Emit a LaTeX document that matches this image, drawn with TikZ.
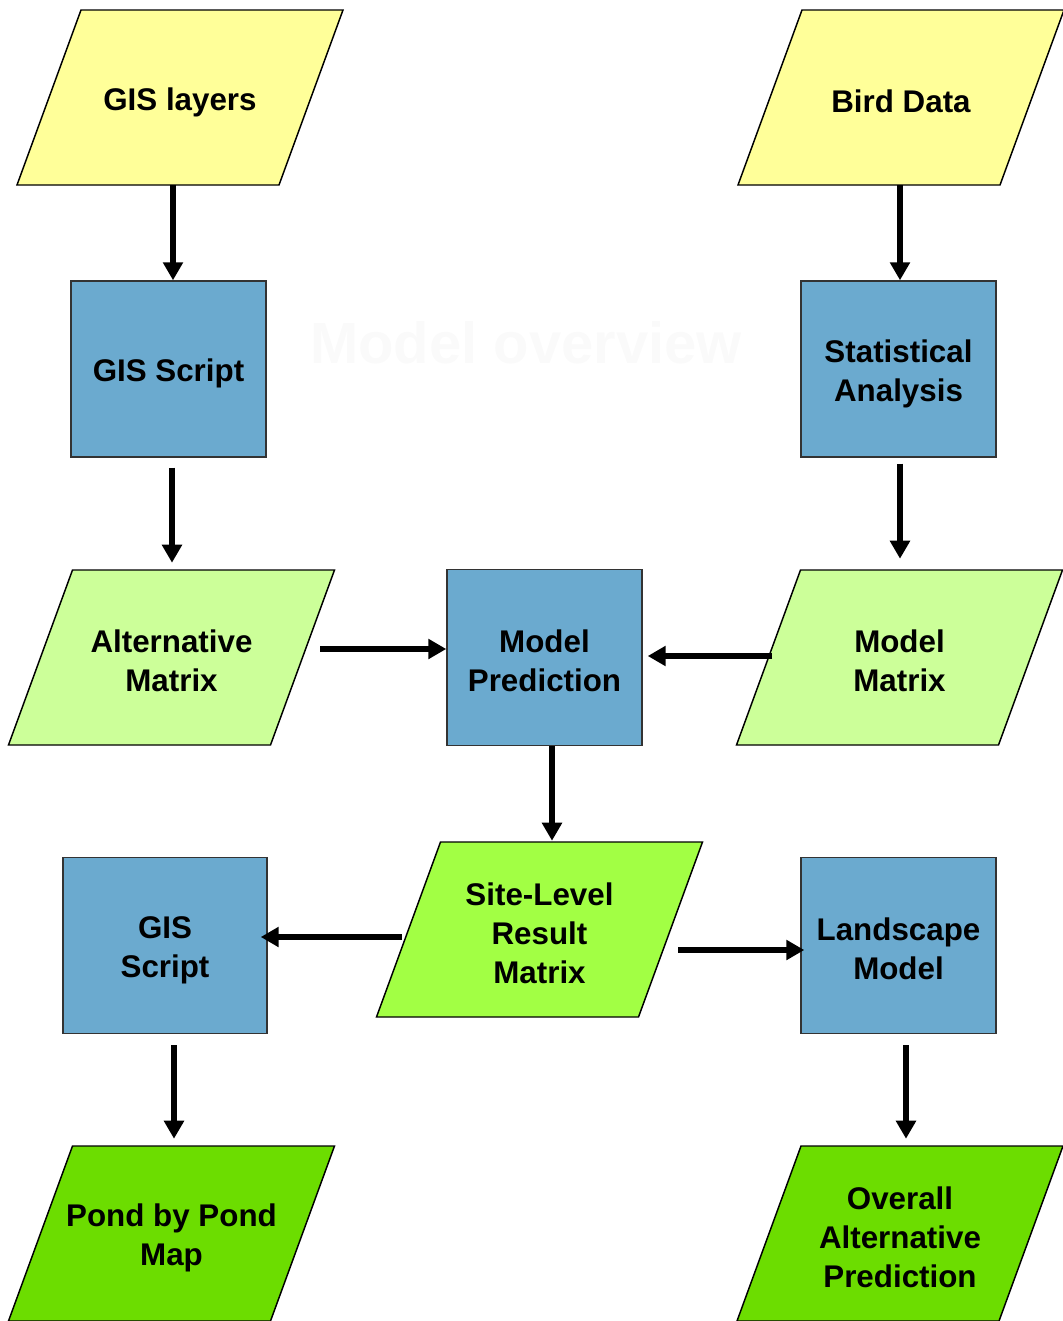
\documentclass[tikz,border=0pt]{standalone}
\usepackage{fontspec}
\setmainfont{Liberation Sans}
\usetikzlibrary{arrows.meta,calc}
\definecolor{inyellow}{HTML}{FFFF99}
\definecolor{ltgreen}{HTML}{CCFF99}
\definecolor{midgreen}{HTML}{A2FF44}
\definecolor{dkgreen}{HTML}{6CDD00}
\definecolor{boxblue}{HTML}{6BAACF}
\definecolor{ghost}{HTML}{FAFAFA}
\newcommand{\ls}{\rule[-2pt]{0pt}{26.3pt}}
\tikzset{
  txt/.style={font=\fontsize{23.5pt}{29.25pt}\selectfont\bfseries, align=center, text=black, inner sep=0pt},
  parabody/.style={txt, rectangle, minimum width=196.5pt, minimum height=131.25pt},
  paraedge/.style={draw=black, line width=1.1pt},
  procbox/.style={txt, rectangle, draw=black!80, line width=1.1pt, fill=boxblue,
    minimum width=146.25pt, minimum height=132pt},
  arr/.style={line width=4.5pt, -{Triangle[length=13.5pt,width=14.5pt]}}
}
% #1 name, #2 x, #3 y, #4 colour, #5 text
\newcommand{\paranode}[5]{%
  \path[paraedge, fill=#4] (#2-163,#3+87.5) -- (#2+99,#3+87.5) -- (#2+163,#3-87.5) -- (#2-99,#3-87.5) -- cycle;
  \node[parabody] (#1) at (#2,#3) {#5};
}
\begin{document}
\begin{tikzpicture}[x=0.75pt,y=-0.75pt]
\useasboundingbox (0,0) rectangle (1063,1321);
\begin{scope}
\clip (0,0) rectangle (1063,1321);
\node[font=\fontsize{43.5pt}{50pt}\selectfont\bfseries, text=ghost] (title) at (526,343) {Model overview};

\paranode{gisl}{180}{97.5}{inyellow}{\ls GIS layers}
\paranode{bird}{901}{97.5}{inyellow}{\ls Bird Data}
\node[procbox] (gs1) at (168.5,369) {\ls GIS Script};
\node[procbox] (stat) at (898.5,369) {\ls Statistical\\\ls Analysis};
\paranode{altm}{171.5}{657.5}{ltgreen}{\ls Alternative\\\ls Matrix}
\node[procbox] (pred) at (544.5,657.5) {\ls Model\\\ls Prediction};
\paranode{modm}{899.5}{657.5}{ltgreen}{\ls Model\\\ls Matrix}
\paranode{site}{539.5}{929.5}{midgreen}{\ls Site-Level\\\ls Result\\\ls Matrix}
\node[procbox, minimum width=153pt] (gs2) at (165,945.5) {\ls GIS\\\ls Script};
\node[procbox] (land) at (898.5,945.5) {\ls Landscape\\\ls Model};
\paranode{pond}{171.5}{1233.5}{dkgreen}{\ls Pond by Pond\\\ls Map}
\paranode{over}{900}{1233.5}{dkgreen}{\ls Overall\\\ls Alternative\\\ls Prediction}
\end{scope}

\draw[arr] ($(gisl.south)+(-7,0)$) -- ($(gs1.north)+(4.5,0)$);
\draw[arr] ($(bird.south)+(-1,0)$) -- ($(stat.north)+(1.5,0)$);
\draw[arr] ($(gs1.south)+(3.5,10)$) -- ($(altm.north)+(0.5,-7)$);
\draw[arr] ($(stat.south)+(1.5,6)$) -- ($(modm.north)+(0.5,-11)$);
\draw[arr] ($(altm.east)+(17.5,-8.5)$) -- ($(pred.west)+(0,-8.5)$);
\draw[arr] ($(modm.west)+(4,-1.5)$) -- ($(pred.east)+(5,-1.5)$);
\draw[arr] ($(pred.south)+(7.5,0)$) -- ($(site.north)+(12.5,-1)$);
\draw[arr] ($(site.west)+(-6,7.5)$) -- ($(gs2.east)+(-7,-8.5)$);
\draw[arr] ($(site.east)+(7.5,20.5)$) -- ($(land.west)+(4,4.5)$);
\draw[arr] ($(gs2.south)+(9,11)$) -- ($(pond.north)+(2.5,-7)$);
\draw[arr] ($(land.south)+(7.5,11)$) -- ($(over.north)+(6,-7)$);
\end{tikzpicture}
\end{document}
